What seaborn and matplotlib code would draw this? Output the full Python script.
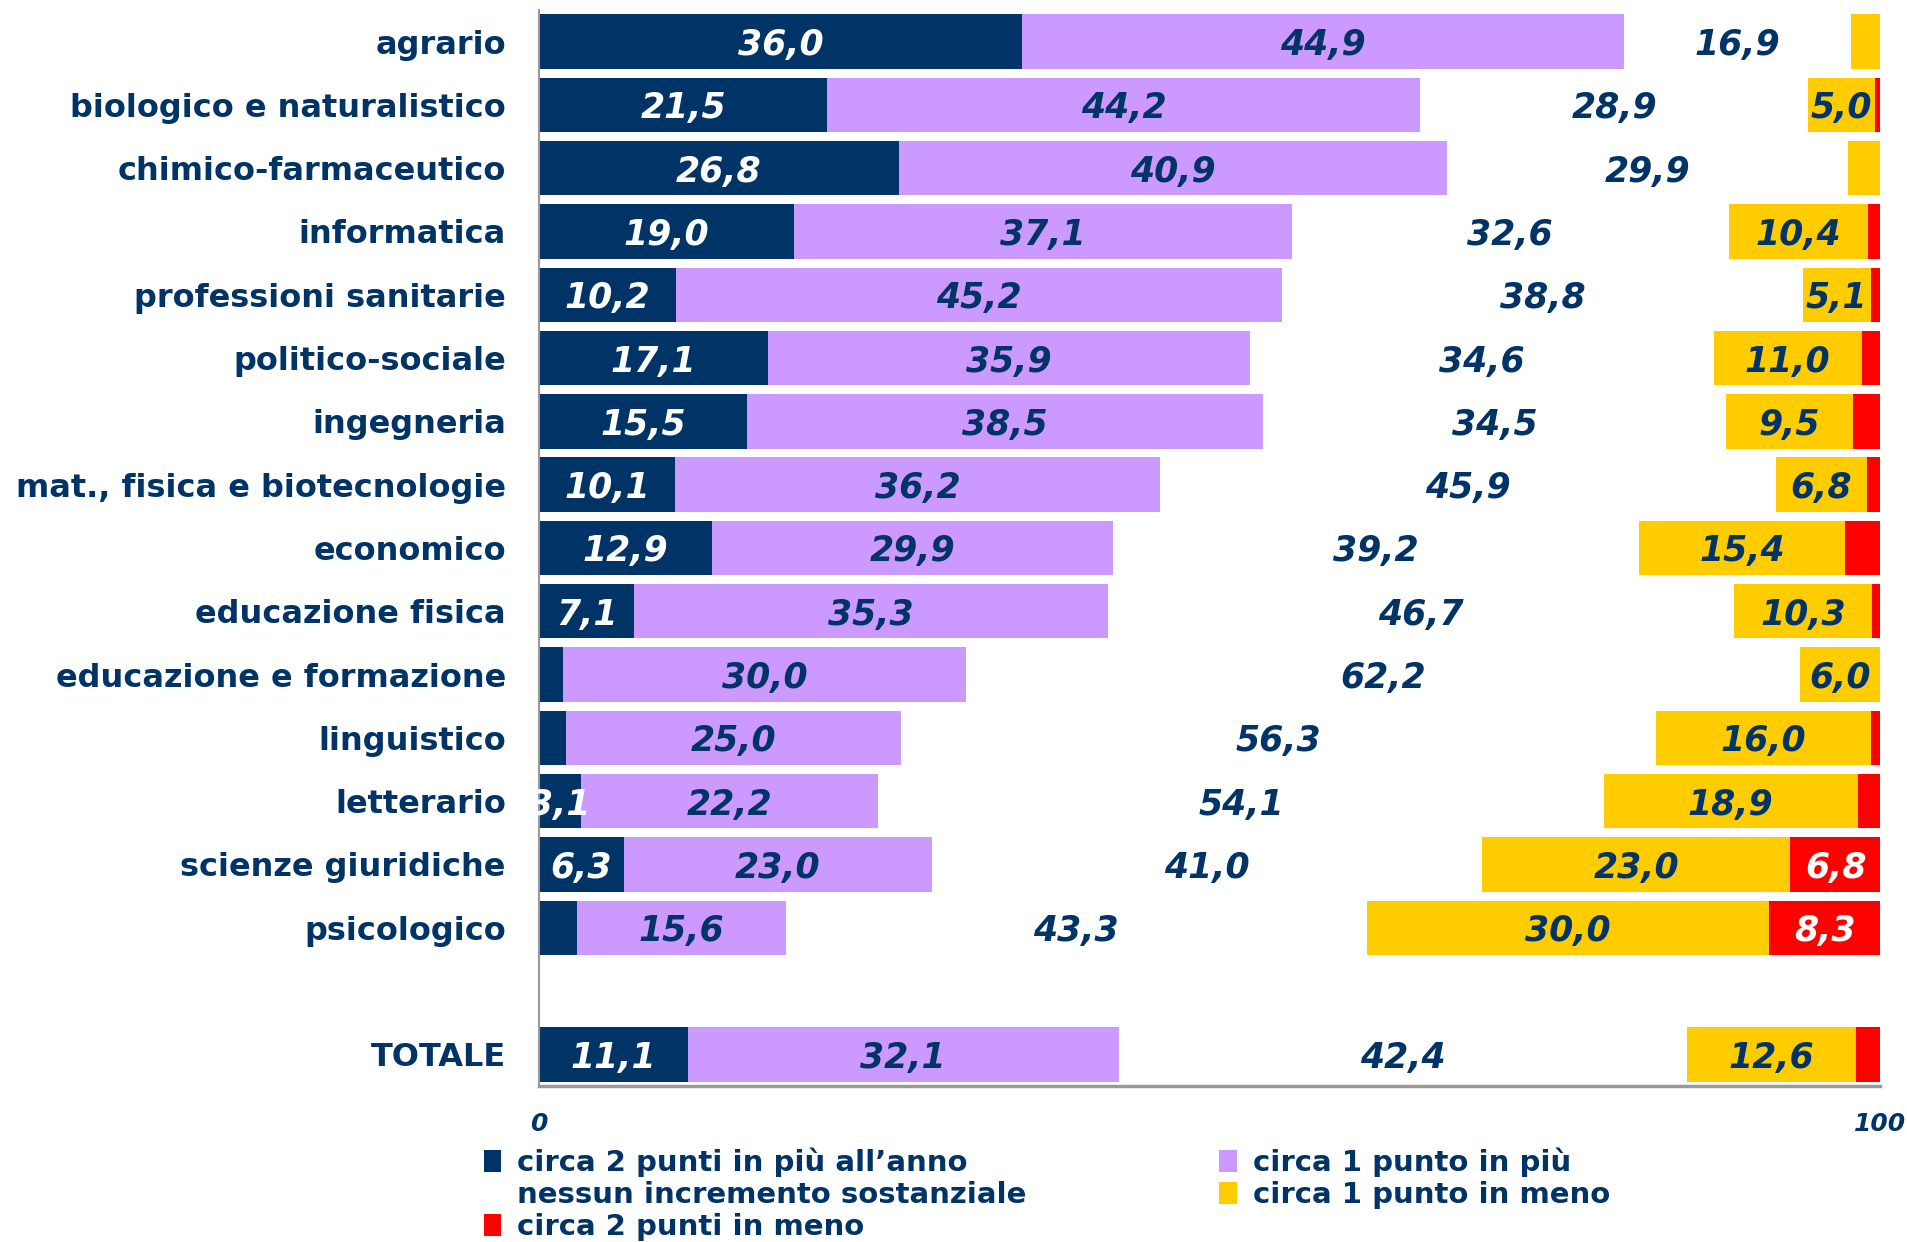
import matplotlib.pyplot as plt
import numpy as np
import pandas as pd
import seaborn as sns
from matplotlib.patches import Patch

# Corsi di laurea (TOTALE in fondo, separato da una riga vuota)
categories = ['agrario', 'biologico e naturalistico', 'chimico-farmaceutico',
              'informatica', 'professioni sanitarie', 'politico-sociale',
              'ingegneria', 'mat., fisica e biotecnologie', 'economico',
              'educazione fisica', 'educazione e formazione', 'linguistico',
              'letterario', 'scienze giuridiche', 'psicologico', 'TOTALE']

# Percentuali per ciascuna risposta
piu_2 = [36.0, 21.5, 26.8, 19.0, 10.2, 17.1, 15.5, 10.1, 12.9, 7.1, 1.8, 2.0, 3.1, 6.3, 2.8, 11.1]
piu_1 = [44.9, 44.2, 40.9, 37.1, 45.2, 35.9, 38.5, 36.2, 29.9, 35.3, 30.0, 25.0, 22.2, 23.0, 15.6, 32.1]
nessuno = [16.9, 28.9, 29.9, 32.6, 38.8, 34.6, 34.5, 45.9, 39.2, 46.7, 62.2, 56.3, 54.1, 41.0, 43.3, 42.4]
meno_1 = [2.2, 5.0, 2.4, 10.4, 5.1, 11.0, 9.5, 6.8, 15.4, 10.3, 6.0, 16.0, 18.9, 23.0, 30.0, 12.6]
meno_2 = [0.0, 0.4, 0.0, 0.9, 0.7, 1.4, 2.0, 1.0, 2.6, 0.6, 0.0, 0.7, 1.7, 6.8, 8.3, 1.8]

legend_labels = ['circa 2 punti in più all’anno', 'circa 1 punto in più',
                 'nessun incremento sostanziale', 'circa 1 punto in meno',
                 'circa 2 punti in meno']

navy = '#003366'
colors = [navy, '#CC99FF', 'white', '#FFCC00', '#FF0000']

sns.set_style('white')
plt.rcParams['font.family'] = ['DejaVu Sans']

fig, ax = plt.subplots(figsize=(19.07, 12.42), dpi=100)
fig.subplots_adjust(left=0.2827, right=0.986, top=0.992, bottom=0.1256)

segments = [piu_2, piu_1, nessuno, meno_1, meno_2]
cum = np.cumsum(np.array(segments), axis=0)

# blank level to leave a gap before TOTALE
order = categories[:-1] + [' '] + categories[-1:]

df = pd.DataFrame({'corso': categories})

# stacked bars: draw cumulative totals from the back to the front
for i in range(len(segments) - 1, -1, -1):
    df['cum'] = cum[i]
    sns.barplot(data=df, x='cum', y='corso', order=order, color=colors[i],
                saturation=1, width=0.86, linewidth=0, ax=ax)

# value labels in the middle of each segment
pos = {c: order.index(c) for c in categories}
for i, seg in enumerate(segments):
    left = cum[i] - np.array(seg)
    for c, l, v in zip(categories, left, seg):
        if v >= 3:
            ax.text(l + v / 2, pos[c], f'{v:.1f}'.replace('.', ','),
                    ha='center', va='center_baseline', fontsize=25,
                    fontweight='bold', fontstyle='italic',
                    color='white' if i in (0, 4) else navy)

ax.set_xlim(0, 100)
ax.set_ylim(len(order) - 0.5, -0.5)
ax.set_xlabel('')
ax.set_ylabel('')

ax.set_xticks([0, 100])
ax.set_xticklabels(['0', '100'], fontsize=18, fontweight='bold',
                   fontstyle='italic', color=navy)
ax.tick_params(axis='x', length=0, pad=19)
ax.tick_params(axis='y', length=0, pad=24)
for lab in ax.get_yticklabels():
    lab.set_fontsize(23)
    lab.set_fontweight('bold')
    lab.set_color(navy)

sns.despine(ax=ax, top=True, right=True)
ax.spines['left'].set_color('#999999')
ax.spines['left'].set_linewidth(1.5)
ax.spines['bottom'].set_color('#999999')
ax.spines['bottom'].set_linewidth(2.5)

# legend: two columns, filled column by column
handles = [Patch(facecolor=c, edgecolor='none') for c in colors]
idx = [0, 2, 4, 1, 3]
leg = fig.legend([handles[k] for k in idx], [legend_labels[k] for k in idx],
                 ncol=2, loc='upper left', bbox_to_anchor=(0.2475, 0.0855),
                 frameon=False, prop={'weight': 'bold', 'size': 21},
                 handlelength=0.6, handleheight=0.8, handletextpad=0.55,
                 columnspacing=6.6, labelspacing=0.14, borderaxespad=0,
                 labelcolor=navy)

fig.savefig('out.png', dpi=100)
